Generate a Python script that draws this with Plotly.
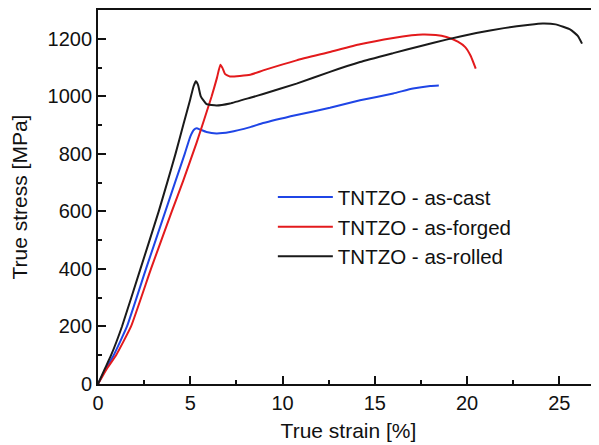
import plotly.graph_objects as go

# as-cast (blue)
cast_strain = [0, 0.4, 0.85, 1.57, 2.6, 3.65, 4.2, 4.7, 5.0, 5.2, 5.35, 5.55, 5.88, 6.42, 7.15, 8.25, 8.95,
               10.76, 12.57, 14.2, 16.0, 17.07, 18.0, 18.47]
cast_stress = [0, 50, 100, 200, 400, 600, 705, 800, 860, 884, 889, 884, 876, 871, 876, 893, 907,
               935, 960, 986, 1010, 1027, 1036, 1038]

# as-forged (red)
forged_strain = [0, 0.45, 0.98, 1.79, 2.87, 4.0, 4.61, 5.35, 6.16, 6.45, 6.63, 6.75, 6.88, 7.15, 8.25,
                 8.95, 10.76, 12.57, 14.2, 16.0, 17.0, 17.6, 18.3, 18.88, 19.5, 19.9, 20.2, 20.47]
forged_stress = [0, 50, 100, 200, 400, 600, 705, 840, 1000, 1065, 1110, 1098, 1078, 1069, 1075,
                 1090, 1125, 1154, 1181, 1203, 1212, 1215, 1213, 1206, 1190, 1171, 1140, 1096]

# as-rolled (black)
rolled_strain = [0, 0.35, 0.71, 1.30, 2.30, 3.29, 3.75, 4.2, 4.62, 5.0, 5.18, 5.3, 5.42, 5.57, 5.88, 6.42,
                 7.15, 8.25, 8.95, 10.76, 12.57, 14.2, 16.0, 17.5, 18.88, 20.5, 22.0, 23.4, 24.1,
                 24.8, 25.6, 26.0, 26.23]
rolled_stress = [0, 50, 100, 200, 400, 600, 700, 800, 900, 990, 1035, 1052, 1040, 1000, 973, 968,
                 975, 995, 1008, 1044, 1085, 1119, 1150, 1175, 1197, 1220, 1237, 1249, 1253,
                 1250, 1232, 1210, 1183]

series_names = ["TNTZO - as-cast", "TNTZO - as-forged", "TNTZO - as-rolled"]
series_colors = ["#1f45e6", "#e31a1c", "#1a1a1a"]

x_ticks = [0, 5, 10, 15, 20, 25]
y_ticks = [0, 200, 400, 600, 800, 1000, 1200]

fig = go.Figure()
for name, xs, ys, col in zip(series_names,
                             [cast_strain, forged_strain, rolled_strain],
                             [cast_stress, forged_stress, rolled_stress],
                             series_colors):
    fig.add_trace(go.Scatter(x=xs, y=ys, mode="lines", name=name,
                             line=dict(color=col, width=2, shape="spline", smoothing=0.4)))

font = dict(family="Liberation Sans, Arial, sans-serif", size=20, color="#111")

fig.update_layout(
    width=591, height=437,
    margin=dict(l=90, r=0, t=2, b=61),
    paper_bgcolor="white", plot_bgcolor="white",
    font=font,
    showlegend=True,
    legend=dict(x=0.349, y=0.553, xanchor="left", yanchor="top",
                bgcolor="rgba(0,0,0,0)", font=dict(size=20.5, color="#111"),
                itemwidth=55, tracegroupgap=0),
    xaxis=dict(range=[0, 27.15], tickvals=x_ticks, ticks="inside", ticklen=8, tickwidth=1.5,
               tickcolor="#111", showline=True, linecolor="#111", linewidth=1.8, mirror=True,
               showgrid=False, zeroline=False, automargin=False,
               minor=dict(dtick=2.5, ticks="inside", ticklen=4, tickwidth=1.5, tickcolor="#111",
                          showgrid=False),
               title=dict(text="True strain [%]", standoff=10, font=dict(size=21))),
    yaxis=dict(range=[0, 1300], tickvals=y_ticks, ticks="inside", ticklen=8, tickwidth=1.5,
               tickcolor="#111", showline=True, linecolor="#111", linewidth=1.8,
               showgrid=False, zeroline=False, automargin=False,
               minor=dict(dtick=100, ticks="inside", ticklen=4, tickwidth=1.5, tickcolor="#111",
                          showgrid=False),
               title=dict(text="True stress [MPa]", standoff=20, font=dict(size=21))),
)

fig.write_html("out.html")
